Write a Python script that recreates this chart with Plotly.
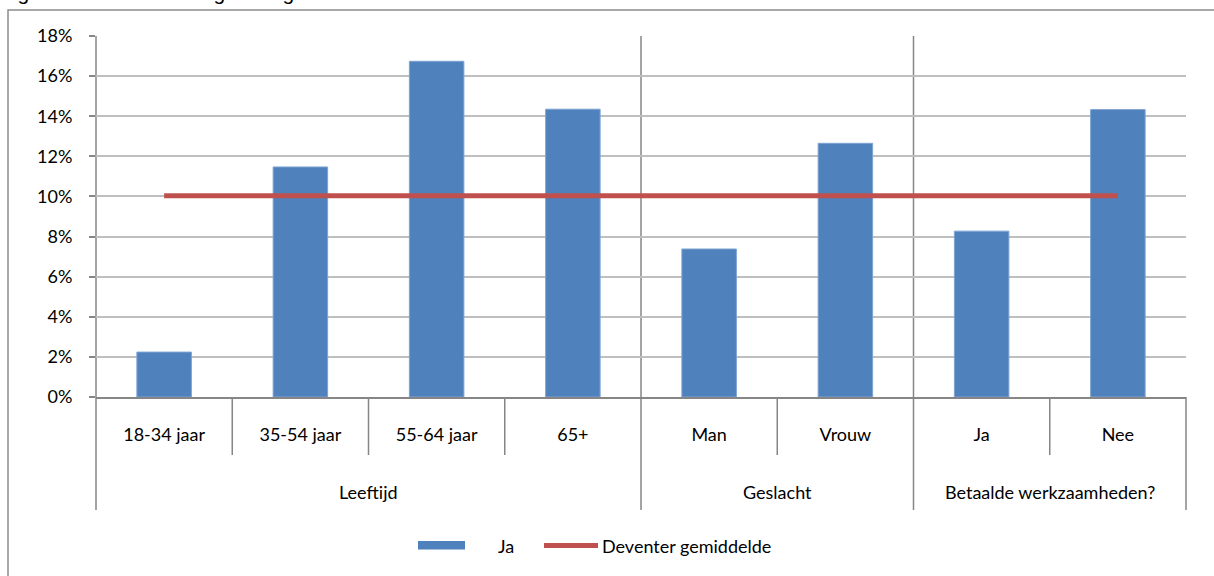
import plotly.graph_objects as go

# ---- data ----
categories = ["18-34 jaar", "35-54 jaar", "55-64 jaar", "65+", "Man", "Vrouw", "Ja", "Nee"]
groups = ["Leeftijd", "Leeftijd", "Leeftijd", "Leeftijd", "Geslacht", "Geslacht",
          "Betaalde werkzaamheden?", "Betaalde werkzaamheden?"]
ja_values = [2.24, 11.47, 16.74, 14.35, 7.38, 12.65, 8.27, 14.33]
gemiddelde = [10.03] * 8
y_ticks = [0, 2, 4, 6, 8, 10, 12, 14, 16, 18]
series_names = ["Ja", "Deventer gemiddelde"]
title_text = "Figuur 4: De mantelzorgers uitgelicht"

FONT = "Lato"
AXIS = "#868686"
BAR = "#4F81BD"
RED = "#C0504D"
n = len(categories)
xs = list(range(n))

fig = go.Figure()
fig.add_trace(go.Bar(
    x=xs, y=ja_values, name=series_names[0], width=0.4, showlegend=False,
    marker=dict(color=BAR, line=dict(color="#7EA3D2", width=1)),
))
fig.add_trace(go.Scatter(
    x=xs, y=gemiddelde, name=series_names[1], mode="lines", showlegend=False,
    line=dict(color=RED, width=5),
))

# pixel helpers (plot area: x 96..1186, y 36..397)
L, R, T, B = 96, 1186, 36, 397
def py(p):
    return (B - p) / (B - T)
def px(p):
    return (p - L) / (R - L)

shapes = []
line_style = dict(color=AXIS, width=1.5)
# group boundaries (full height incl. label rows)
bounds = [0]
for i in range(1, n):
    if groups[i] != groups[i - 1]:
        bounds.append(i)
bounds.append(n)
for b in bounds:
    xp = b / n
    top = 0 if b == n else 1
    shapes.append(dict(type="line", xref="paper", yref="paper", x0=xp, x1=xp,
                       y0=top, y1=py(510), line=line_style, layer="below"))
# category dividers
for i in range(1, n):
    if i not in bounds:
        xp = i / n
        shapes.append(dict(type="line", xref="paper", yref="paper", x0=xp, x1=xp,
                           y0=0, y1=py(455), line=line_style, layer="below"))
# outer chart border
shapes.append(dict(type="rect", xref="paper", yref="paper",
                   x0=px(8), x1=px(1225), y0=py(10), y1=py(590),
                   line=dict(color="#8C8C8C", width=1.5), fillcolor="rgba(0,0,0,0)"))
# custom legend symbols
shapes.append(dict(type="rect", xref="paper", yref="paper",
                   x0=px(418), x1=px(465), y0=py(541), y1=py(549.5),
                   line=dict(width=0), fillcolor=BAR))
shapes.append(dict(type="line", xref="paper", yref="paper",
                   x0=px(544), x1=px(598), y0=py(545.5), y1=py(545.5),
                   line=dict(color=RED, width=5)))

annotations = []
seen = []
for g in groups:
    if g not in seen:
        seen.append(g)
for g in seen:
    idx = [i for i, gg in enumerate(groups) if gg == g]
    annotations.append(dict(x=sum(idx) / len(idx), xref="x", y=py(492), yref="paper",
                            text=g, showarrow=False, xanchor="center", yanchor="middle",
                            font=dict(family=FONT, size=18, color="#000000")))
# legend texts
annotations.append(dict(x=px(496), xref="paper", y=py(546), yref="paper", text=series_names[0],
                        showarrow=False, xanchor="left", yanchor="middle",
                        font=dict(family=FONT, size=18, color="#000000")))
annotations.append(dict(x=px(600), xref="paper", y=py(546), yref="paper", text=series_names[1],
                        showarrow=False, xanchor="left", yanchor="middle",
                        font=dict(family=FONT, size=18, color="#000000")))
# title (cut off at the top edge, as in the source)
annotations.append(dict(x=px(-2), xref="paper", y=py(6), yref="paper", text=title_text,
                        showarrow=False, xanchor="left", yanchor="bottom",
                        font=dict(family="Liberation Sans, Arial", size=21, color="#000000")))

fig.update_layout(
    width=1214, height=576,
    margin=dict(l=L, r=1214 - R, t=T, b=576 - B),
    paper_bgcolor="white", plot_bgcolor="white",
    font=dict(family=FONT, size=18, color="#000000"),
    showlegend=False,
    shapes=shapes,
    annotations=annotations,
)
fig.update_xaxes(
    range=[-0.5, n - 0.5], tickmode="array", tickvals=xs, ticktext=categories,
    showgrid=False, zeroline=False, showline=True, linecolor=AXIS, linewidth=1.5,
    ticks="", ticklabelstandoff=21, tickfont=dict(family=FONT, size=18),
)
fig.update_yaxes(
    range=[0, 18], tickmode="array", tickvals=y_ticks,
    ticktext=[f"{v}%" for v in y_ticks],
    showgrid=True, gridcolor="#BFBFBF", gridwidth=1.5, zeroline=False,
    showline=False, ticks="outside", ticklen=6, tickcolor=AXIS, tickwidth=1.5,
    ticklabelstandoff=13, tickfont=dict(family=FONT, size=18),
)

fig.write_html("out.html", config={"displayModeBar": False},
               post_script="document.body.style.margin='0';")
